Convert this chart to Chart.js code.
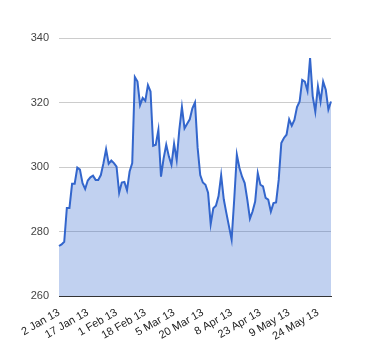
<!DOCTYPE html>
<html>
<head>
<meta charset="utf-8">
<script src="https://cdn.jsdelivr.net/npm/chart.js@4"></script>
<style>
  html, body { margin: 0; padding: 0; background: #fff; }
  #wrap { position: relative; width: 380px; height: 360px; }
</style>
</head>
<body>
<div id="wrap"><canvas id="chart"></canvas></div>
<script>
// Trading days (UK) by month, 2013
const janDays = [2, 3, 4, 7, 8, 9, 10, 11, 14, 15, 16, 17, 18, 21, 22, 23, 24, 25, 28, 29, 30, 31];
const febDays = [1, 4, 5, 6, 7, 8, 11, 12, 13, 14, 15, 18, 19, 20, 21, 22, 25, 26, 27, 28];
const marDays = [1, 4, 5, 6, 7, 8, 11, 12, 13, 14, 15, 18, 19, 20, 21, 22, 25, 26, 27, 28];
const aprDays = [2, 3, 4, 5, 8, 9, 10, 11, 12, 15, 16, 17, 18, 19, 22, 23, 24, 25, 26, 29, 30];
const mayDays = [1, 2, 3, 7, 8, 9, 10, 13, 14, 15, 16, 17, 20, 21, 22, 23, 24, 28, 29, 30, 31];
const junDays = [3];

const dates = [
    ...janDays.map(d => d + ' Jan 13'),
    ...febDays.map(d => d + ' Feb 13'),
    ...marDays.map(d => d + ' Mar 13'),
    ...aprDays.map(d => d + ' Apr 13'),
    ...mayDays.map(d => d + ' May 13'),
    ...junDays.map(d => d + ' Jun 13')
];

// Closing values
const closes = [
    275.5, 276, 276.8, 287.3, 287.3, 294.8, 294.8, 299.8, 299.2, 295,
    293.2, 295.8, 296.8, 297.3, 296, 296, 297.5, 301.2, 305.5, 301,
    302, 301.2, 300.1, 292, 295.2, 295.4, 292.8, 298.6, 301.2, 327.9,
    326.5, 319.2, 321.4, 320.5, 325.4, 323.4, 306.6, 306.9, 311.5, 297,
    302.7, 306.9, 303.3, 300.7, 307.2, 302.2, 311.5, 318.6, 312, 313.4,
    314.8, 318.2, 320, 306, 297.5, 295.2, 294.5, 292, 282.3, 287.2,
    288, 291, 297.5, 290, 285.7, 281.6, 277.5, 290, 303.8, 299.7,
    297, 295, 289.9, 284, 286.2, 289.3, 298.1, 294.5, 294, 290.4,
    289.9, 286.2, 288.8, 289, 296, 307.4, 309, 310, 314.8, 312.8,
    314.6, 318.6, 320.3, 327, 326.5, 323.6, 333.8, 322, 317.2, 325,
    320.3, 326.5, 324, 317.8, 320.3
];

const yTicks = [260, 280, 300, 320, 340];
const labelEvery = 11;

const ctx = document.getElementById('chart').getContext('2d');
new Chart(ctx, {
    type: 'line',
    data: {
        labels: dates,
        datasets: [{
            data: closes,
            borderColor: '#3366cc',
            backgroundColor: 'rgba(51, 102, 204, 0.3)',
            borderWidth: 2,
            pointRadius: 0,
            tension: 0,
            fill: 'origin'
        }]
    },
    options: {
        responsive: true,
        maintainAspectRatio: false,
        animation: false,
        layout: { padding: { top: 38, right: 49, bottom: 0, left: 0 } },
        plugins: { legend: { display: false }, tooltip: { enabled: false } },
        scales: {
            x: {
                offset: false,
                grid: { display: false },
                border: { display: true, color: '#333', width: 1 },
                ticks: {
                    autoSkip: false,
                    minRotation: 30,
                    maxRotation: 30,
                    padding: 2,
                    color: '#222',
                    font: { family: 'Liberation Sans, Arial, sans-serif', size: 11 },
                    callback: (v, i) => (i % labelEvery === 0 ? dates[i] : null)
                },
                afterFit: s => { s.height = 64; }
            },
            y: {
                min: 260,
                max: 340,
                afterBuildTicks: s => { s.ticks = yTicks.map(v => ({ value: v })); },
                grid: { color: '#cccccc', lineWidth: 1, drawTicks: false },
                border: { display: false },
                ticks: {
                    padding: 10,
                    color: '#444',
                    font: { family: 'Liberation Sans, Arial, sans-serif', size: 11 }
                },
                afterFit: s => { s.width = 59; }
            }
        }
    }
});
</script>
</body>
</html>
